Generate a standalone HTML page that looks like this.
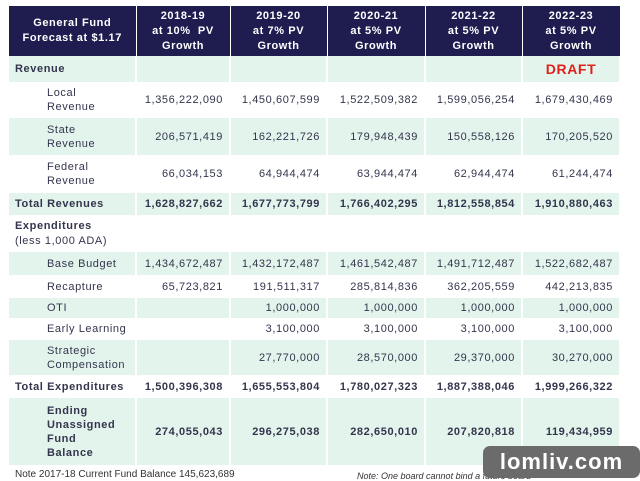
<!DOCTYPE html>
<html><head><style>
body{margin:0;width:640px;height:481px;background:#fff;overflow:hidden;font-family:"Liberation Sans",sans-serif;position:relative}
table{position:absolute;left:9px;top:6px;border-collapse:collapse;table-layout:fixed}
td,th{padding:0;font-size:11px;letter-spacing:0.6px;color:#33354d;border-right:2px solid #fff}
th{background:#1f1c50;color:#fff;font-weight:bold;text-align:center;line-height:15px;height:50px;border-right:1.5px solid #fff}
tr.g td{background:#e3f4ec}
td.n{text-align:right;padding-right:6px}
td.l{padding-left:38px;line-height:14px}
td.h{padding-left:6px;font-weight:bold}
tr.b td{font-weight:bold}
.note{position:absolute;font-size:10px;color:#333;top:469px}
.wm{position:absolute;left:483px;top:446px;width:157px;height:32px;background:#6b6b6b;border-radius:7px;color:#fff;font-weight:bold;font-size:22px;text-align:center;line-height:32px;letter-spacing:1px}
</style></head><body>
<table>
<colgroup><col style="width:127px"><col style="width:94px"><col style="width:97px"><col style="width:98px"><col style="width:97px"><col style="width:98px"></colgroup>
<tr><th>General Fund<br>Forecast at $1.17</th><th>2018-19<br>at 10%&nbsp; PV<br>Growth</th><th>2019-20<br>at 7% PV<br>Growth</th><th>2020-21<br>at 5% PV<br>Growth</th><th>2021-22<br>at 5% PV<br>Growth</th><th>2022-23<br>at 5% PV<br>Growth</th></tr>
<tr class="g" style="height:26px"><td class="h">Revenue</td><td></td><td></td><td></td><td></td><td style="text-align:center;color:#e0201b;font-weight:bold;font-size:14px">DRAFT</td></tr>
<tr style="height:36px"><td class="l">Local<br>Revenue</td><td class="n">1,356,222,090</td><td class="n">1,450,607,599</td><td class="n">1,522,509,382</td><td class="n">1,599,056,254</td><td class="n">1,679,430,469</td></tr>
<tr class="g" style="height:37px"><td class="l">State<br>Revenue</td><td class="n">206,571,419</td><td class="n">162,221,726</td><td class="n">179,948,439</td><td class="n">150,558,126</td><td class="n">170,205,520</td></tr>
<tr style="height:38px"><td class="l">Federal<br>Revenue</td><td class="n">66,034,153</td><td class="n">64,944,474</td><td class="n">63,944,474</td><td class="n">62,944,474</td><td class="n">61,244,474</td></tr>
<tr class="g b" style="height:22px"><td class="h">Total Revenues</td><td class="n">1,628,827,662</td><td class="n">1,677,773,799</td><td class="n">1,766,402,295</td><td class="n">1,812,558,854</td><td class="n">1,910,880,463</td></tr>
<tr style="height:37px"><td style="padding-left:6px;line-height:15px"><b>Expenditures</b><br>(less 1,000 ADA)</td><td></td><td></td><td></td><td></td><td></td></tr>
<tr class="g" style="height:23px"><td class="l">Base Budget</td><td class="n">1,434,672,487</td><td class="n">1,432,172,487</td><td class="n">1,461,542,487</td><td class="n">1,491,712,487</td><td class="n">1,522,682,487</td></tr>
<tr style="height:23px"><td class="l">Recapture</td><td class="n">65,723,821</td><td class="n">191,511,317</td><td class="n">285,814,836</td><td class="n">362,205,559</td><td class="n">442,213,835</td></tr>
<tr class="g" style="height:20px"><td class="l">OTI</td><td class="n"></td><td class="n">1,000,000</td><td class="n">1,000,000</td><td class="n">1,000,000</td><td class="n">1,000,000</td></tr>
<tr style="height:22px"><td class="l">Early Learning</td><td class="n"></td><td class="n">3,100,000</td><td class="n">3,100,000</td><td class="n">3,100,000</td><td class="n">3,100,000</td></tr>
<tr class="g" style="height:35px"><td class="l">Strategic<br>Compensation</td><td class="n"></td><td class="n">27,770,000</td><td class="n">28,570,000</td><td class="n">29,370,000</td><td class="n">30,270,000</td></tr>
<tr class="b" style="height:23px"><td class="h">Total Expenditures</td><td class="n">1,500,396,308</td><td class="n">1,655,553,804</td><td class="n">1,780,027,323</td><td class="n">1,887,388,046</td><td class="n">1,999,266,322</td></tr>
<tr class="g b" style="height:67px"><td class="l" style="line-height:14px">Ending<br>Unassigned<br>Fund<br>Balance</td><td class="n">274,055,043</td><td class="n">296,275,038</td><td class="n">282,650,010</td><td class="n">207,820,818</td><td class="n">119,434,959</td></tr>
</table>
<div class="note" style="left:15px">Note 2017-18 Current Fund Balance 145,623,689</div>
<div class="note" style="left:357px;font-style:italic;font-size:9px;top:471px">Note: One board cannot bind a future board</div>
<div class="wm">lomliv.com</div>
</body></html>
